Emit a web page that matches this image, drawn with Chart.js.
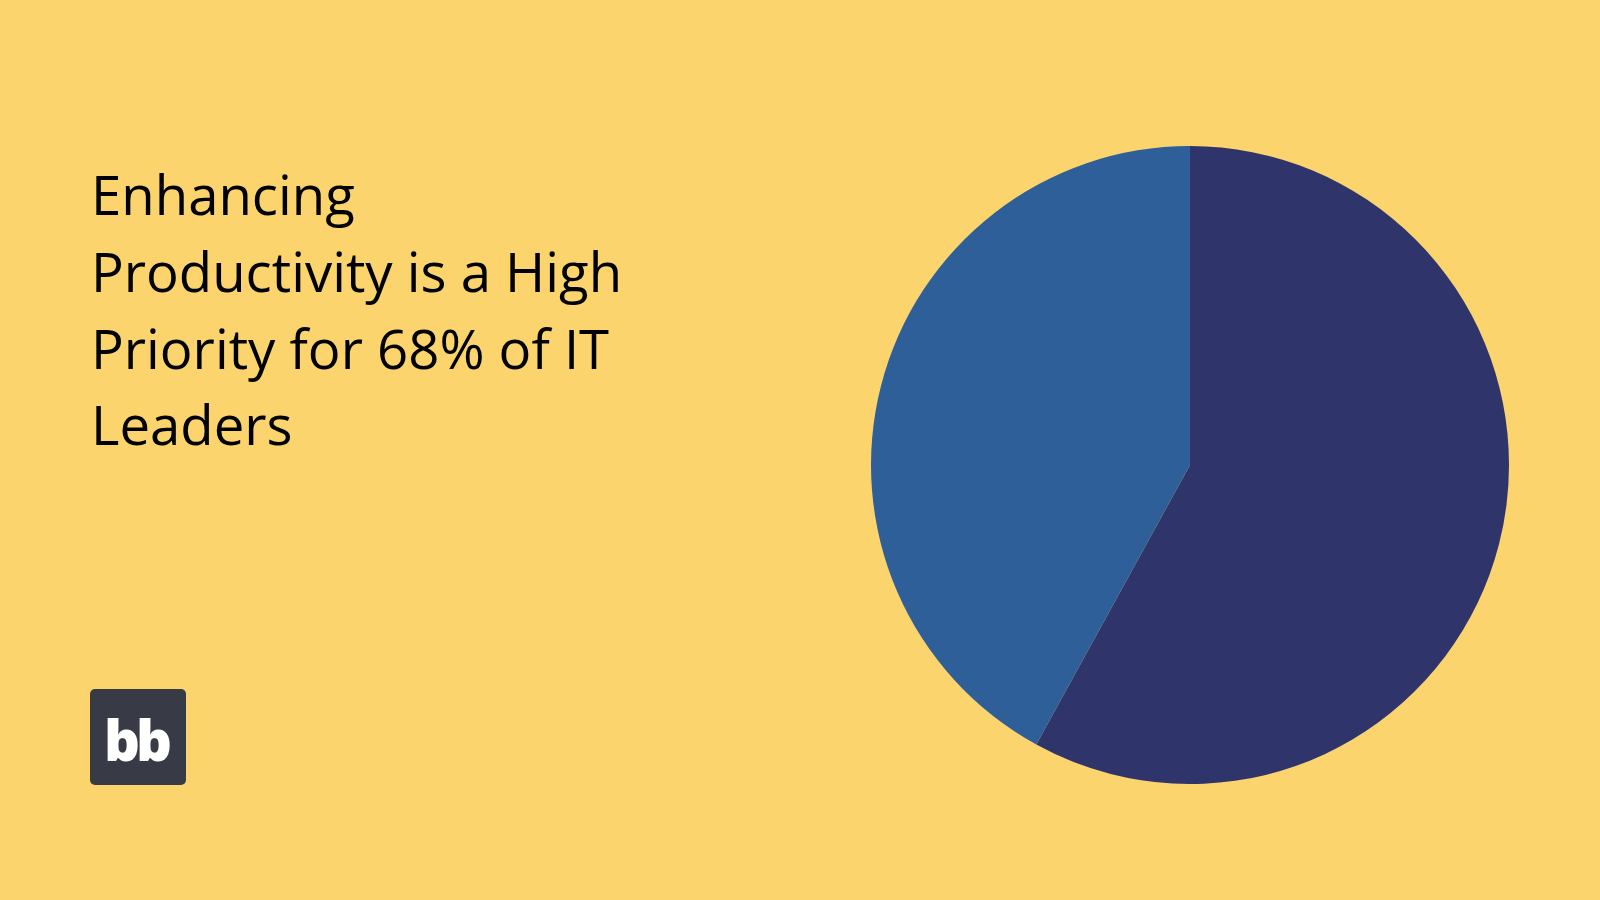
<!DOCTYPE html>
<html>
<head>
<meta charset="utf-8">
<script src="https://cdn.jsdelivr.net/npm/chart.js@4"></script>
<style>
  html, body {
    margin: 0;
    padding: 0;
    width: 1600px;
    height: 900px;
    background: #fbd46d;
    overflow: hidden;
    font-family: "Open Sans", sans-serif;
  }
  #title {
    position: absolute;
    left: 91px;
    top: 156px;
    white-space: nowrap;
    font-size: 54.5px;
    line-height: 76.8px;
    color: #000;
    margin: 0;
    font-weight: 400;
  }
  #logo {
    position: absolute;
    left: 90px;
    top: 689px;
    width: 96px;
    height: 96px;
    border-radius: 5px;
    background: #383a45;
    color: #fff;
    font-weight: 800;
    font-size: 56px;
    letter-spacing: -4px;
    display: flex;
    align-items: center;
    justify-content: center;
    line-height: 1;
    padding: 4px 4px 0 0;
    box-sizing: border-box;
  }
  #pieWrap {
    position: absolute;
    left: 871px;
    top: 146px;
    width: 638px;
    height: 638px;
  }
</style>
</head>
<body>
<h1 id="title">Enhancing<br>Productivity is a High<br>Priority for 68% of IT<br>Leaders</h1>
<div id="logo">bb</div>
<div id="pieWrap"><canvas id="pieChart" width="638" height="638"></canvas></div>

<script>
// values
const sliceLabels = ["High priority", "Other"];
const sliceValues = [58, 42];
const sliceColors = ["#2f346b", "#2e5f98"];

let ctx = document.getElementById('pieChart').getContext('2d');
window.pieChart = new Chart(ctx, {
    type: 'pie',
    data: {
        labels: sliceLabels,
        datasets: [{
            data: sliceValues,
            backgroundColor: sliceColors,
            borderWidth: 0,
        }]
    },
    options: {
        responsive: false,
        animation: false,
        layout: { padding: 0 },
        plugins: {
            legend: { display: false },
            tooltip: { enabled: false },
        },
    }
});
</script>
</body>
</html>
